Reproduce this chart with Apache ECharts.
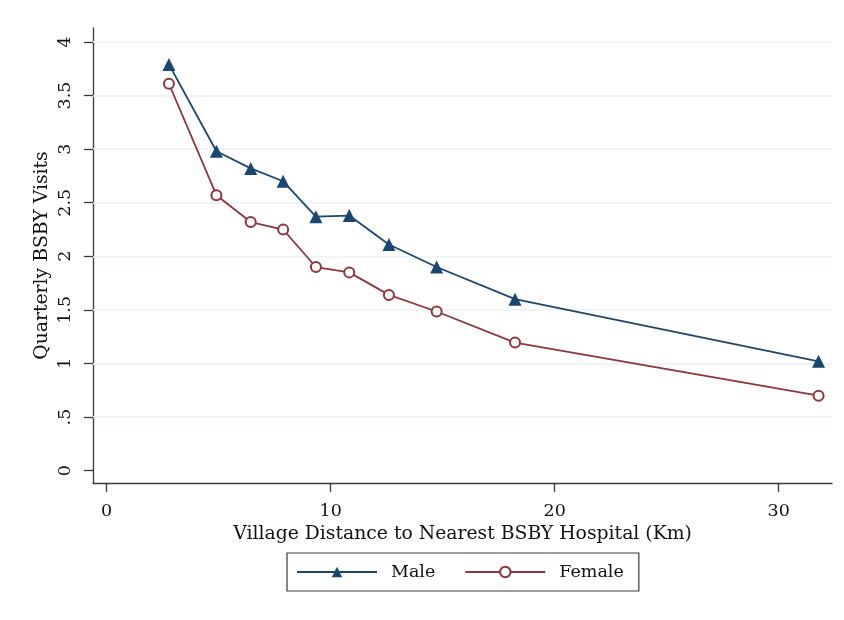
<!DOCTYPE html>
<html><head><meta charset="utf-8">
<script src="https://cdn.jsdelivr.net/npm/echarts@6/dist/echarts.min.js"></script>
<style>html,body{margin:0;padding:0;background:#fff}#c{width:844px;height:620px}</style>
</head><body><div id="c"></div>
<script>
const distance = [2.78, 4.90, 6.43, 7.88, 9.34, 10.83, 12.6, 14.73, 18.23, 31.78];
const maleVisits = [3.79, 2.98, 2.82, 2.70, 2.37, 2.38, 2.11, 1.90, 1.60, 1.02];
const femaleVisits = [3.61, 2.57, 2.32, 2.25, 1.90, 1.85, 1.64, 1.485, 1.195, 0.70];
const yTicks = [0, 0.5, 1, 1.5, 2, 2.5, 3, 3.5, 4];
const yTickLabels = ['0', '.5', '1', '1.5', '2', '2.5', '3', '3.5', '4'];
const xTicks = [0, 10, 20, 30];
const xTickLabels = ['0', '10', '20', '30'];
const seriesNames = ['Male', 'Female'];

const FONT = 'DejaVu Serif';
const axisCol = '#3a3a3a';
const pairs = (xs, ys) => xs.map((x, i) => [x, ys[i]]);

const chart = echarts.init(document.getElementById('c'), null, {renderer: 'canvas'});
chart.setOption({
  backgroundColor: '#fff',
  animation: false,
  grid: {left: 93, right: 12, top: 28, bottom: 137},
  xAxis: {
    type: 'value', min: -0.61, max: 32.38,
    name: 'Village Distance to Nearest BSBY Hospital (Km)',
    nameLocation: 'middle', nameGap: 31,
    nameTextStyle: {fontFamily: FONT, fontSize: 18.8, color: '#111'},
    axisLine: {show: true, onZero: false, lineStyle: {color: axisCol, width: 1.3}},
    axisTick: {show: true, length: 9, customValues: xTicks, lineStyle: {color: axisCol, width: 1.3}},
    axisLabel: {customValues: xTicks, margin: 19, fontFamily: FONT, fontSize: 17.5, color: '#111',
      formatter: v => xTickLabels[xTicks.indexOf(v)] ?? ''},
    splitLine: {show: false}
  },
  yAxis: {
    type: 'value', min: -0.115, max: 4.13,
    name: 'Quarterly BSBY Visits',
    nameLocation: 'middle', nameGap: 41, nameRotate: 90, nameMoveOverlap: false,
    nameTextStyle: {fontFamily: FONT, fontSize: 18.8, color: '#111'},
    axisLine: {show: true, onZero: false, lineStyle: {color: axisCol, width: 1.3}},
    axisTick: {show: true, length: 9, customValues: yTicks, lineStyle: {color: axisCol, width: 1.3}},
    axisLabel: {customValues: yTicks, rotate: 90, margin: 19, fontFamily: FONT, fontSize: 17.5, color: '#111',
      formatter: v => yTickLabels[yTicks.indexOf(v)] ?? ''},
    splitLine: {show: false}
  },
  legend: {
    left: 287, top: 553,
    data: seriesNames,
    orient: 'horizontal',
    itemWidth: 80, itemHeight: 13, itemGap: 29,
    padding: [10, 15, 10, 9],
    borderColor: '#3a3a3a', borderWidth: 1.2,
    textStyle: {fontFamily: FONT, fontSize: 17.5, color: '#111', padding: [0, 0, 0, 9]}
  },
  series: [
    {
      name: seriesNames[0], type: 'line',
      data: pairs(distance, maleVisits),
      symbol: 'triangle', symbolSize: 13,
      itemStyle: {color: '#1a476f'},
      lineStyle: {color: '#1a476f', width: 1.8},
      z: 3,
      markLine: {
        silent: true, symbol: 'none', label: {show: false},
        lineStyle: {color: '#eaf2f3', width: 1.5, type: 'solid'},
        data: yTicks.filter(v => v > 0).map(v => ({yAxis: v})),
        z: 1
      }
    },
    {
      name: seriesNames[1], type: 'line',
      data: pairs(distance, femaleVisits),
      symbol: 'emptyCircle', symbolSize: 10,
      itemStyle: {color: '#90353b', borderWidth: 1.8},
      lineStyle: {color: '#90353b', width: 1.8},
      z: 3
    }
  ]
});
</script></body></html>
